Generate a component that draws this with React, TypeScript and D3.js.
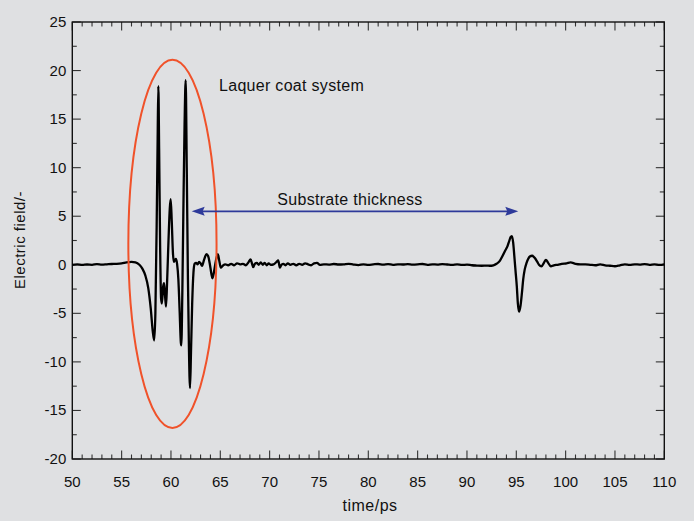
import React, { useEffect, useRef } from "react";
import * as d3 from "d3";

// waveform (time in ps, field in arbitrary units)
const timePs = [
  50, 50.5, 51, 51.5, 52, 52.5, 53, 53.5, 54, 54.5, 55, 55.5, 56, 56.4, 56.8,
  57.1, 57.4, 57.7, 57.95, 58.15, 58.3, 58.42, 58.55, 58.65, 58.72, 58.8, 58.9,
  59.0, 59.08, 59.2, 59.3, 59.4, 59.5, 59.6, 59.75, 59.88, 59.97, 60.08, 60.2,
  60.3, 60.42, 60.5, 60.62, 60.75, 60.88, 61.0, 61.05, 61.15, 61.25, 61.38,
  61.49, 61.6, 61.72, 61.82, 61.93, 62.03, 62.15, 62.28, 62.4, 62.55, 62.7,
  62.85, 63.0, 63.15, 63.35, 63.6, 63.8, 64.0, 64.2, 64.35, 64.55, 64.75, 64.9,
  65.05, 65.25, 65.5, 65.8, 66.1, 66.4, 66.7, 67.0, 67.3, 67.6, 67.85, 68.07,
  68.22, 68.34, 68.5, 68.7, 68.9, 69.1, 69.3, 69.5, 69.7, 69.9, 70.1, 70.4,
  70.7, 70.87, 71.04, 71.2, 71.4, 71.6, 71.85, 72.1, 72.4, 72.7, 73.0, 73.3,
  73.6, 73.9, 74.2, 74.5, 74.8, 75.1, 75.5, 76, 76.5, 77, 77.5, 78, 78.5, 79,
  79.5, 80, 80.5, 81, 81.5, 82, 82.5, 83, 83.5, 84, 84.5, 85, 85.5, 86, 86.5,
  87, 87.5, 88, 88.5, 89, 89.5, 90, 90.5, 91, 91.5, 92, 92.3, 92.68, 93.0,
  93.33, 93.6, 93.84, 94.1, 94.3, 94.42, 94.55, 94.68, 94.8, 94.92, 95.05,
  95.16, 95.28, 95.43, 95.57, 95.7, 95.85, 96.04, 96.2, 96.37, 96.6, 96.88,
  97.1, 97.3, 97.55, 97.8, 98.0, 98.23, 98.5, 98.8, 99.2, 99.6, 100.1, 100.5,
  101, 101.5, 102, 102.5, 103, 103.5, 104, 104.5, 105, 105.5, 106, 106.5, 107,
  107.5, 108, 108.5, 109, 109.5, 110,
];
const field = [
  0.0, 0.05, -0.02, 0.03, 0.0, 0.06, 0.02, 0.05, 0.08, 0.1, 0.15, 0.25, 0.3,
  0.25, 0.0, -0.4, -1.1, -2.4, -4.5, -6.8, -7.8, -5.0, 4.0, 13.0, 18.4, 12.0,
  2.0, -3.5, -4.0, -2.3, -1.9, -3.2, -4.3, -2.0, 2.5, 5.8, 6.75, 4.5, 1.2, 0.3,
  0.5, 0.6, 0.1, -1.5, -4.8, -8.0, -8.3, -3.0, 5.0, 14.5, 19.0, 10.0, -1.5,
  -8.5, -12.7, -9.0, -4.0, -0.8, 0.1, 0.2, 0.05, 0.3, 0.15, -0.1, 0.5, 1.1, 0.8,
  -0.3, -1.4, -0.8, 0.4, 1.1, 0.4, -0.3, -0.1, 0.05, -0.05, 0.1, -0.05, 0.15,
  0.05, 0.1, -0.05, 0.25, 0.55, 0.1, -0.25, 0.1, 0.2, 0.0, 0.25, 0.0, 0.2,
  -0.05, 0.15, 0.0, 0.05, 0.3, 0.45, -0.3, 0.0, 0.1, -0.05, 0.15, 0.0, 0.1,
  -0.05, 0.1, 0.0, 0.15, 0.05, -0.05, 0.15, 0.2, 0.0, 0.05, 0.02, 0.08, 0.03,
  0.05, 0.1, 0.02, -0.03, 0.05, 0.0, 0.04, 0.08, 0.02, 0.06, 0.0, 0.05, 0.03,
  0.07, 0.02, 0.04, 0.08, 0.0, 0.05, 0.02, 0.06, 0.03, 0.0, 0.04, -0.02, 0.02,
  -0.05, -0.08, -0.1, -0.08, -0.1, -0.05, 0.1, 0.4, 0.9, 1.4, 1.9, 2.5, 2.85,
  2.96, 2.3, 0.9, -0.6, -2.2, -4.0, -4.83, -4.2, -2.9, -1.5, -0.5, 0.2, 0.6,
  0.85, 0.93, 0.7, 0.35, 0.0, -0.17, 0.2, 0.51, 0.2, -0.17, -0.05, 0.0, 0.1,
  0.15, 0.24, 0.1, 0.05, 0.05, 0.0, -0.05, 0.05, -0.05, -0.1, -0.15, -0.05,
  0.05, 0.0, 0.05, 0.02, 0.06, 0.0, 0.05, -0.02, 0.04, 0.0,
];

const xTicks = [50, 55, 60, 65, 70, 75, 80, 85, 90, 95, 100, 105, 110];
const yTicks = [-20, -15, -10, -5, 0, 5, 10, 15, 20, 25];

// annotations (data units)
const ellipseCenter = [60.15, 2.15];
const ellipseRadii = [4.47, 18.95];
const arrowSpan = [62.1, 95.2];
const arrowLevel = 5.5;
const coatLabel = "Laquer coat system";
const substrateLabel = "Substrate thickness";

export default function App() {
  const ref = useRef<SVGSVGElement>(null);

  useEffect(() => {
    const svg = d3.select(ref.current);
    svg.selectAll("*").remove();

    const width = 694;
    const height = 521;
    const margin = { top: 22, left: 72.3, right: 29.7, bottom: 62 };
    const iw = width - margin.left - margin.right;
    const ih = height - margin.top - margin.bottom;
    const font = "'Liberation Sans', Arial, sans-serif";

    svg.append("rect").attr("width", width).attr("height", height).attr("fill", "#dfe0e2");

    const g = svg.append("g").attr("transform", `translate(${margin.left},${margin.top})`);

    const x = d3.scaleLinear().domain([50, 110]).range([0, iw]);
    const y = d3.scaleLinear().domain([-20, 25]).range([ih, 0]);

    const xMinor = d3.range(50, 111, 1).filter((v) => v % 5 !== 0);
    const yMinor = d3.range(-20, 25.1, 2.5).filter((v) => v % 5 !== 0);

    // inward ticks on all four sides
    const tickCol = "#333";
    const addTicks = (vals: number[], len: number) => {
      vals.forEach((v) => {
        g.append("line").attr("x1", x(v)).attr("x2", x(v)).attr("y1", ih).attr("y2", ih - len).attr("stroke", tickCol).attr("stroke-width", 1.1);
        g.append("line").attr("x1", x(v)).attr("x2", x(v)).attr("y1", 0).attr("y2", len).attr("stroke", tickCol).attr("stroke-width", 1.1);
      });
    };
    const addYTicks = (vals: number[], len: number) => {
      vals.forEach((v) => {
        g.append("line").attr("y1", y(v)).attr("y2", y(v)).attr("x1", 0).attr("x2", len).attr("stroke", tickCol).attr("stroke-width", 1.1);
        g.append("line").attr("y1", y(v)).attr("y2", y(v)).attr("x1", iw).attr("x2", iw - len).attr("stroke", tickCol).attr("stroke-width", 1.1);
      });
    };
    addTicks(xTicks, 8.5);
    addTicks(xMinor, 4.5);
    addYTicks(yTicks, 8.5);
    addYTicks(yMinor, 4.5);

    g.append("rect").attr("width", iw).attr("height", ih).attr("fill", "none").attr("stroke", "#111").attr("stroke-width", 1.4);

    g.selectAll(".xl").data(xTicks).enter().append("text")
      .attr("x", (d) => x(d)).attr("y", ih + 28)
      .attr("text-anchor", "middle").attr("font-family", font).attr("font-size", 15).attr("fill", "#111")
      .text((d) => d);

    g.selectAll(".yl").data(yTicks).enter().append("text")
      .attr("x", -6).attr("y", (d) => y(d) + 5)
      .attr("text-anchor", "end").attr("font-family", font).attr("font-size", 15).attr("fill", "#111")
      .text((d) => d);

    svg.append("text").attr("x", 370).attr("y", 511).attr("text-anchor", "middle")
      .attr("font-family", font).attr("font-size", 16).attr("letter-spacing", 0.5).attr("fill", "#111").text("time/ps");

    svg.append("text").attr("transform", "translate(25,240) rotate(-90)").attr("text-anchor", "middle")
      .attr("font-family", font).attr("font-size", 15).attr("letter-spacing", 0.5).attr("fill", "#111").text("Electric field/-");

    // waveform
    const pts: [number, number][] = timePs.map((t, i) => [t, field[i]]);
    const line = d3.line<[number, number]>().x((d) => x(d[0])).y((d) => y(d[1])).curve(d3.curveMonotoneX);
    g.append("path").datum(pts).attr("d", line).attr("fill", "none").attr("stroke", "#000").attr("stroke-width", 2.3).attr("stroke-linejoin", "round");

    // red ellipse
    g.append("ellipse")
      .attr("cx", x(ellipseCenter[0])).attr("cy", y(ellipseCenter[1]))
      .attr("rx", x(50 + ellipseRadii[0]) - x(50)).attr("ry", y(0) - y(ellipseRadii[1]))
      .attr("fill", "none").attr("stroke", "#f0522a").attr("stroke-width", 2);

    // blue double arrow
    const blue = "#2e3a9a";
    const ay = y(arrowLevel);
    const ax1 = x(arrowSpan[0]);
    const ax2 = x(arrowSpan[1]);
    g.append("line").attr("x1", ax1 + 8).attr("x2", ax2 - 8).attr("y1", ay).attr("y2", ay).attr("stroke", blue).attr("stroke-width", 1.8);
    g.append("path").attr("d", `M${ax1},${ay} L${ax1 + 13},${ay - 4.5} L${ax1 + 11},${ay} L${ax1 + 13},${ay + 4.5} Z`).attr("fill", blue);
    g.append("path").attr("d", `M${ax2},${ay} L${ax2 - 13},${ay - 4.5} L${ax2 - 11},${ay} L${ax2 - 13},${ay + 4.5} Z`).attr("fill", blue);

    svg.append("text").attr("x", 219).attr("y", 91).attr("font-family", font).attr("font-size", 16).attr("letter-spacing", 0.3).attr("fill", "#111").text(coatLabel);
    svg.append("text").attr("x", 350).attr("y", 205).attr("text-anchor", "middle").attr("font-family", font).attr("font-size", 16).attr("letter-spacing", 0.3).attr("fill", "#111").text(substrateLabel);
  }, []);

  return (
    <svg ref={ref} width={694} height={521} style={{ position: "absolute", left: 0, top: 0 }} />
  );
}
